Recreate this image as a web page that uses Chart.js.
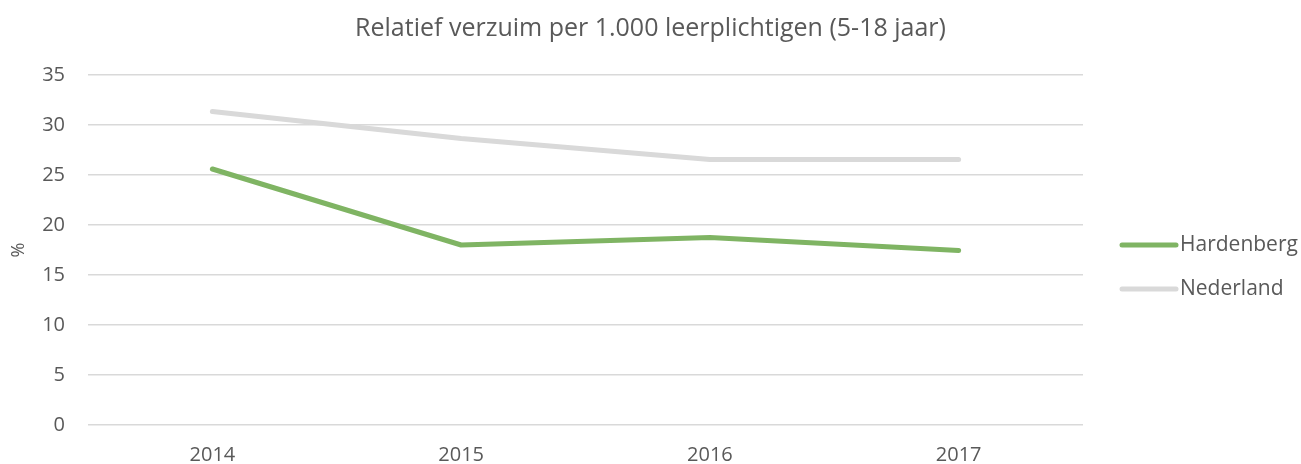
<!DOCTYPE html>
<html>
<head>
<meta charset="utf-8">
<script src="https://cdn.jsdelivr.net/npm/chart.js@4"></script>
<style>
    html, body { margin: 0; padding: 0; background: #fff; }
    #wrap { width: 1301px; height: 464px; }
</style>
</head>
<body>
<div id="wrap"><canvas id="myChart" width="1301" height="464"></canvas></div>
<script>
const years = ['2014', '2015', '2016', '2017'];
const hardenberg = [25.6, 18.0, 18.75, 17.45];
const nederland = [31.35, 28.65, 26.55, 26.55];
const yTicks = [0, 5, 10, 15, 20, 25, 30, 35];
const chartTitle = 'Relatief verzuim per 1.000 leerplichtigen (5-18 jaar)';

const textColor = '#595959';
const fontFamily = "'Open Sans', 'Liberation Sans', sans-serif";

// title over the full width and legend on the side, drawn by hand so they
// sit where the original has them (the right side is kept free by padding)
const frame = {
    id: 'frame',
    afterDraw(chart) {
        const { ctx, chartArea, width } = chart;
        ctx.save();
        ctx.fillStyle = textColor;
        ctx.textBaseline = 'middle';

        ctx.textAlign = 'center';
        ctx.font = `25px ${fontFamily}`;
        ctx.fillText(chartTitle, width / 2, 29);

        ctx.textAlign = 'left';
        ctx.font = `21px ${fontFamily}`;
        const x0 = chartArea.right + 39;
        chart.data.datasets.forEach((ds, i) => {
            const y = chartArea.top + 170 + i * 44;
            ctx.strokeStyle = ds.borderColor;
            ctx.lineWidth = 5;
            ctx.lineCap = 'round';
            ctx.beginPath();
            ctx.moveTo(x0, y);
            ctx.lineTo(x0 + 54, y);
            ctx.stroke();
            ctx.fillText(ds.label, x0 + 58, y);
        });
        ctx.restore();
    }
};

const ctx = document.getElementById('myChart').getContext('2d');
new Chart(ctx, {
    type: 'line',
    data: {
        labels: years,
        datasets: [
            { label: 'Hardenberg', data: hardenberg, borderColor: '#7fb463', backgroundColor: '#7fb463', borderWidth: 5, pointRadius: 0, borderCapStyle: 'round', borderJoinStyle: 'round', tension: 0 },
            { label: 'Nederland', data: nederland, borderColor: '#d9d9d9', backgroundColor: '#d9d9d9', borderWidth: 5, pointRadius: 0, borderCapStyle: 'round', borderJoinStyle: 'round', tension: 0 }
        ]
    },
    options: {
        responsive: false,
        animation: false,
        layout: { padding: { left: 0, right: 218, top: 75, bottom: -21 } },
        scales: {
            y: {
                min: yTicks[0], max: yTicks[yTicks.length - 1],
                afterBuildTicks: axis => { axis.ticks = yTicks.map(v => ({ value: v })); },
                afterFit: axis => { axis.width = 88; },
                grid: { color: '#d9d9d9', lineWidth: 1.5, drawTicks: false },
                border: { display: false },
                ticks: { color: textColor, padding: 23, font: { family: fontFamily, size: 20 } },
                title: { display: true, text: '%', color: textColor, font: { family: fontFamily, size: 18 }, padding: { top: 8, bottom: 0 } }
            },
            x: {
                offset: true,
                grid: { display: false, drawTicks: false },
                border: { display: false },
                ticks: { color: textColor, padding: 20, font: { family: fontFamily, size: 20, lineHeight: 1 } }
            }
        },
        plugins: {
            legend: { display: false },
            title: { display: false },
            tooltip: { enabled: false }
        }
    },
    plugins: [frame]
});
</script>
</body>
</html>
